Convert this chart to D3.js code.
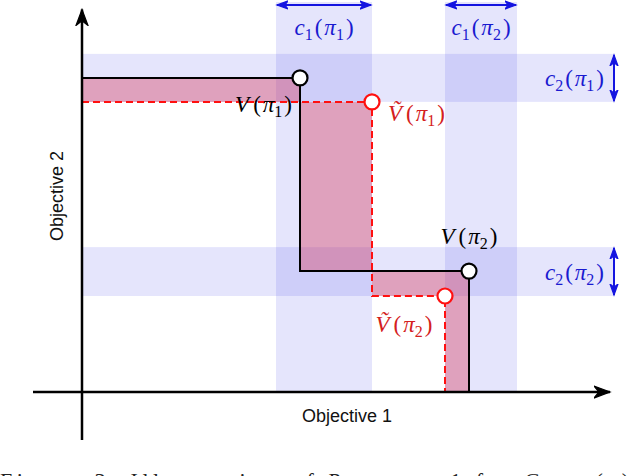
<!DOCTYPE html>
<html>
<head>
<meta charset="utf-8">
<script src="https://cdn.jsdelivr.net/npm/d3@7"></script>
<style>
  html, body { margin: 0; padding: 0; background: #fff; }
</style>
</head>
<body>
<div id="container"></div>
<script>
const width = 636;
const height = 476;

// values in objective units
const policies = ["1", "2"];
const trueValues = [[4.36, 10.47], [7.74, 4.03]];
const noisyValues = [[5.8, 9.67], [7.26, 3.2]];
const c1Bands = [[3.88, 5.8], [7.26, 8.7]];
const c2Bands = [[9.67, 11.27], [3.2, 4.83]];
const xAxisExtent = [-0.98, 10.56];
const yAxisExtent = [-1.6, 12.75];
const c1BandTop = 13;
const c2BandRight = 10.66;
const caption = "Figure 3:  Illustration  of  Property  1  for  Case  (a)";

const x = d3.scaleLinear().domain([0, 10]).range([82, 582]);
const y = d3.scaleLinear().domain([0, 10]).range([392, 92]);

const svg = d3.create("svg")
    .attr("width", width)
    .attr("height", height);

const defs = svg.append("defs");
const addMarker = (id, color, w, h) => {
    defs.append("marker")
        .attr("id", id)
        .attr("viewBox", `0 ${-h} ${w + 2} ${2 * h}`)
        .attr("refX", w)
        .attr("refY", 0)
        .attr("markerUnits", "userSpaceOnUse")
        .attr("markerWidth", w + 2)
        .attr("markerHeight", 2 * h)
        .attr("orient", "auto-start-reverse")
        .append("path")
        .attr("d", `M0,${-h + 1}L${w},0L0,${h - 1}L${w * 0.3},0Z`)
        .attr("fill", color)
        .attr("stroke", color)
        .attr("stroke-width", 1.2)
        .attr("stroke-linejoin", "miter");
};
addMarker("axisArrow", "#000", 16, 7);
addMarker("blueArrow", "#1515e0", 11, 5);

const bandColor = "rgb(40,40,230)";

// vertical c1 bands
svg.selectAll("rect.c1band")
    .data(c1Bands)
    .enter()
    .append("rect")
    .attr("class", "c1band")
    .attr("x", d => x(d[0]))
    .attr("width", d => x(d[1]) - x(d[0]))
    .attr("y", y(c1BandTop))
    .attr("height", y(0) - y(c1BandTop))
    .attr("fill", bandColor)
    .attr("fill-opacity", 0.12);

// horizontal c2 bands
svg.selectAll("rect.c2band")
    .data(c2Bands)
    .enter()
    .append("rect")
    .attr("class", "c2band")
    .attr("x", x(0))
    .attr("width", x(c2BandRight) - x(0))
    .attr("y", d => y(d[1]))
    .attr("height", d => y(d[0]) - y(d[1]))
    .attr("fill", bandColor)
    .attr("fill-opacity", 0.12);

const stairs = vals => [
    [0, vals[0][1]],
    [vals[0][0], vals[0][1]],
    [vals[0][0], vals[1][1]],
    [vals[1][0], vals[1][1]],
    [vals[1][0], 0]
];
const line = d3.line().x(d => x(d[0])).y(d => y(d[1]));
const region = vals => line([[0, 0], ...stairs(vals)]) + "Z";

// symmetric difference of the two dominated regions
svg.append("path")
    .attr("d", region(trueValues) + region(noisyValues))
    .attr("fill-rule", "evenodd")
    .attr("fill", "rgb(215,60,95)")
    .attr("fill-opacity", 0.4);

svg.append("path")
    .attr("d", line(stairs(noisyValues)))
    .attr("fill", "none")
    .attr("stroke", "#ff1010")
    .attr("stroke-width", 2)
    .attr("stroke-dasharray", "7,4");

svg.append("path")
    .attr("d", line(stairs(trueValues)))
    .attr("fill", "none")
    .attr("stroke", "#000")
    .attr("stroke-width", 2);

// axes
svg.append("line")
    .attr("x1", x(xAxisExtent[0]))
    .attr("x2", x(xAxisExtent[1]))
    .attr("y1", y(0))
    .attr("y2", y(0))
    .attr("stroke", "#000")
    .attr("stroke-width", 2.5)
    .attr("marker-end", "url(#axisArrow)");

svg.append("line")
    .attr("x1", x(0))
    .attr("x2", x(0))
    .attr("y1", y(yAxisExtent[0]))
    .attr("y2", y(yAxisExtent[1]))
    .attr("stroke", "#000")
    .attr("stroke-width", 2.5)
    .attr("marker-end", "url(#axisArrow)");

svg.append("text")
    .attr("x", 347)
    .attr("y", 422)
    .attr("text-anchor", "middle")
    .attr("font-family", "'Liberation Sans', Arial, sans-serif")
    .attr("font-size", "18px")
    .attr("fill", "#111")
    .text("Objective 1");

svg.append("text")
    .attr("transform", "translate(63,196) rotate(-90)")
    .attr("text-anchor", "middle")
    .attr("font-family", "'Liberation Sans', Arial, sans-serif")
    .attr("font-size", "18px")
    .attr("fill", "#111")
    .text("Objective 2");

// double arrows for the radii
svg.selectAll("line.c1arrow")
    .data(c1Bands)
    .enter()
    .append("line")
    .attr("class", "c1arrow")
    .attr("x1", d => x(d[0]) + 1)
    .attr("x2", d => x(d[1]) - 1)
    .attr("y1", 5)
    .attr("y2", 5)
    .attr("stroke", "#1515e0")
    .attr("stroke-width", 2)
    .attr("marker-start", "url(#blueArrow)")
    .attr("marker-end", "url(#blueArrow)");

svg.selectAll("line.c2arrow")
    .data(c2Bands)
    .enter()
    .append("line")
    .attr("class", "c2arrow")
    .attr("x1", 614)
    .attr("x2", 614)
    .attr("y1", d => y(d[1]) + 1)
    .attr("y2", d => y(d[0]) - 1)
    .attr("stroke", "#1515e0")
    .attr("stroke-width", 2)
    .attr("marker-start", "url(#blueArrow)")
    .attr("marker-end", "url(#blueArrow)");

// math labels: base(π_sub)
const mathLabel = (px, py, anchor, color, base, baseSub, sub) => {
    const t = svg.append("text")
        .attr("x", px)
        .attr("y", py)
        .attr("text-anchor", anchor)
        .attr("font-family", "'Liberation Serif', serif")
        .attr("font-size", "23px")
        .attr("fill", color);
    t.append("tspan").attr("font-style", "italic").text(base);
    if (baseSub) {
        t.append("tspan").attr("font-size", "16px").attr("dy", 5).text(baseSub);
        t.append("tspan").attr("dy", -5).attr("dx", 2).text("(");
    } else {
        t.append("tspan").attr("dx", 4).text("(");
    }
    t.append("tspan").attr("font-style", "italic").attr("dx", 2).text("π");
    t.append("tspan").attr("font-size", "16px").attr("dy", 5).text(sub);
    t.append("tspan").attr("dy", -5).attr("dx", 2).text(")");
};

const blueText = "#1a1ad0";
const redText = "#d42020";
c1Bands.forEach((b, i) => mathLabel((x(b[0]) + x(b[1])) / 2, 35, "middle", blueText, "c", "1", policies[i]));
c2Bands.forEach((b, i) => mathLabel(604, y((b[0] + b[1]) / 2) + 8, "end", blueText, "c", "2", policies[i]));

mathLabel(x(trueValues[0][0]) - 8, y(trueValues[0][1]) + 34, "end", "#000", "V", null, policies[0]);
mathLabel(x(trueValues[1][0]), y(trueValues[1][1]) - 27, "middle", "#000", "V", null, policies[1]);
mathLabel(x(noisyValues[0][0]) + 16, y(noisyValues[0][1]) + 19, "start", redText, "Ṽ", null, policies[0]);
mathLabel(x(noisyValues[1][0]) - 41, y(noisyValues[1][1]) + 36, "middle", redText, "Ṽ", null, policies[1]);

// points
svg.selectAll("circle.noisy")
    .data(noisyValues)
    .enter()
    .append("circle")
    .attr("class", "noisy")
    .attr("cx", d => x(d[0]))
    .attr("cy", d => y(d[1]))
    .attr("r", 7.5)
    .attr("fill", "#fff")
    .attr("stroke", "#ff1010")
    .attr("stroke-width", 2.2);

svg.selectAll("circle.true")
    .data(trueValues)
    .enter()
    .append("circle")
    .attr("class", "true")
    .attr("cx", d => x(d[0]))
    .attr("cy", d => y(d[1]))
    .attr("r", 7.5)
    .attr("fill", "#fff")
    .attr("stroke", "#000")
    .attr("stroke-width", 2.2);

// caption, cropped by the bottom edge as in the source figure
svg.append("text")
    .attr("x", 0)
    .attr("y", 488)
    .attr("font-family", "'Liberation Serif', serif")
    .attr("font-size", "22px")
    .attr("letter-spacing", "4.5px")
    .attr("fill", "#222")
    .text(caption);

d3.select("#container").append(() => svg.node());
</script>
</body>
</html>
